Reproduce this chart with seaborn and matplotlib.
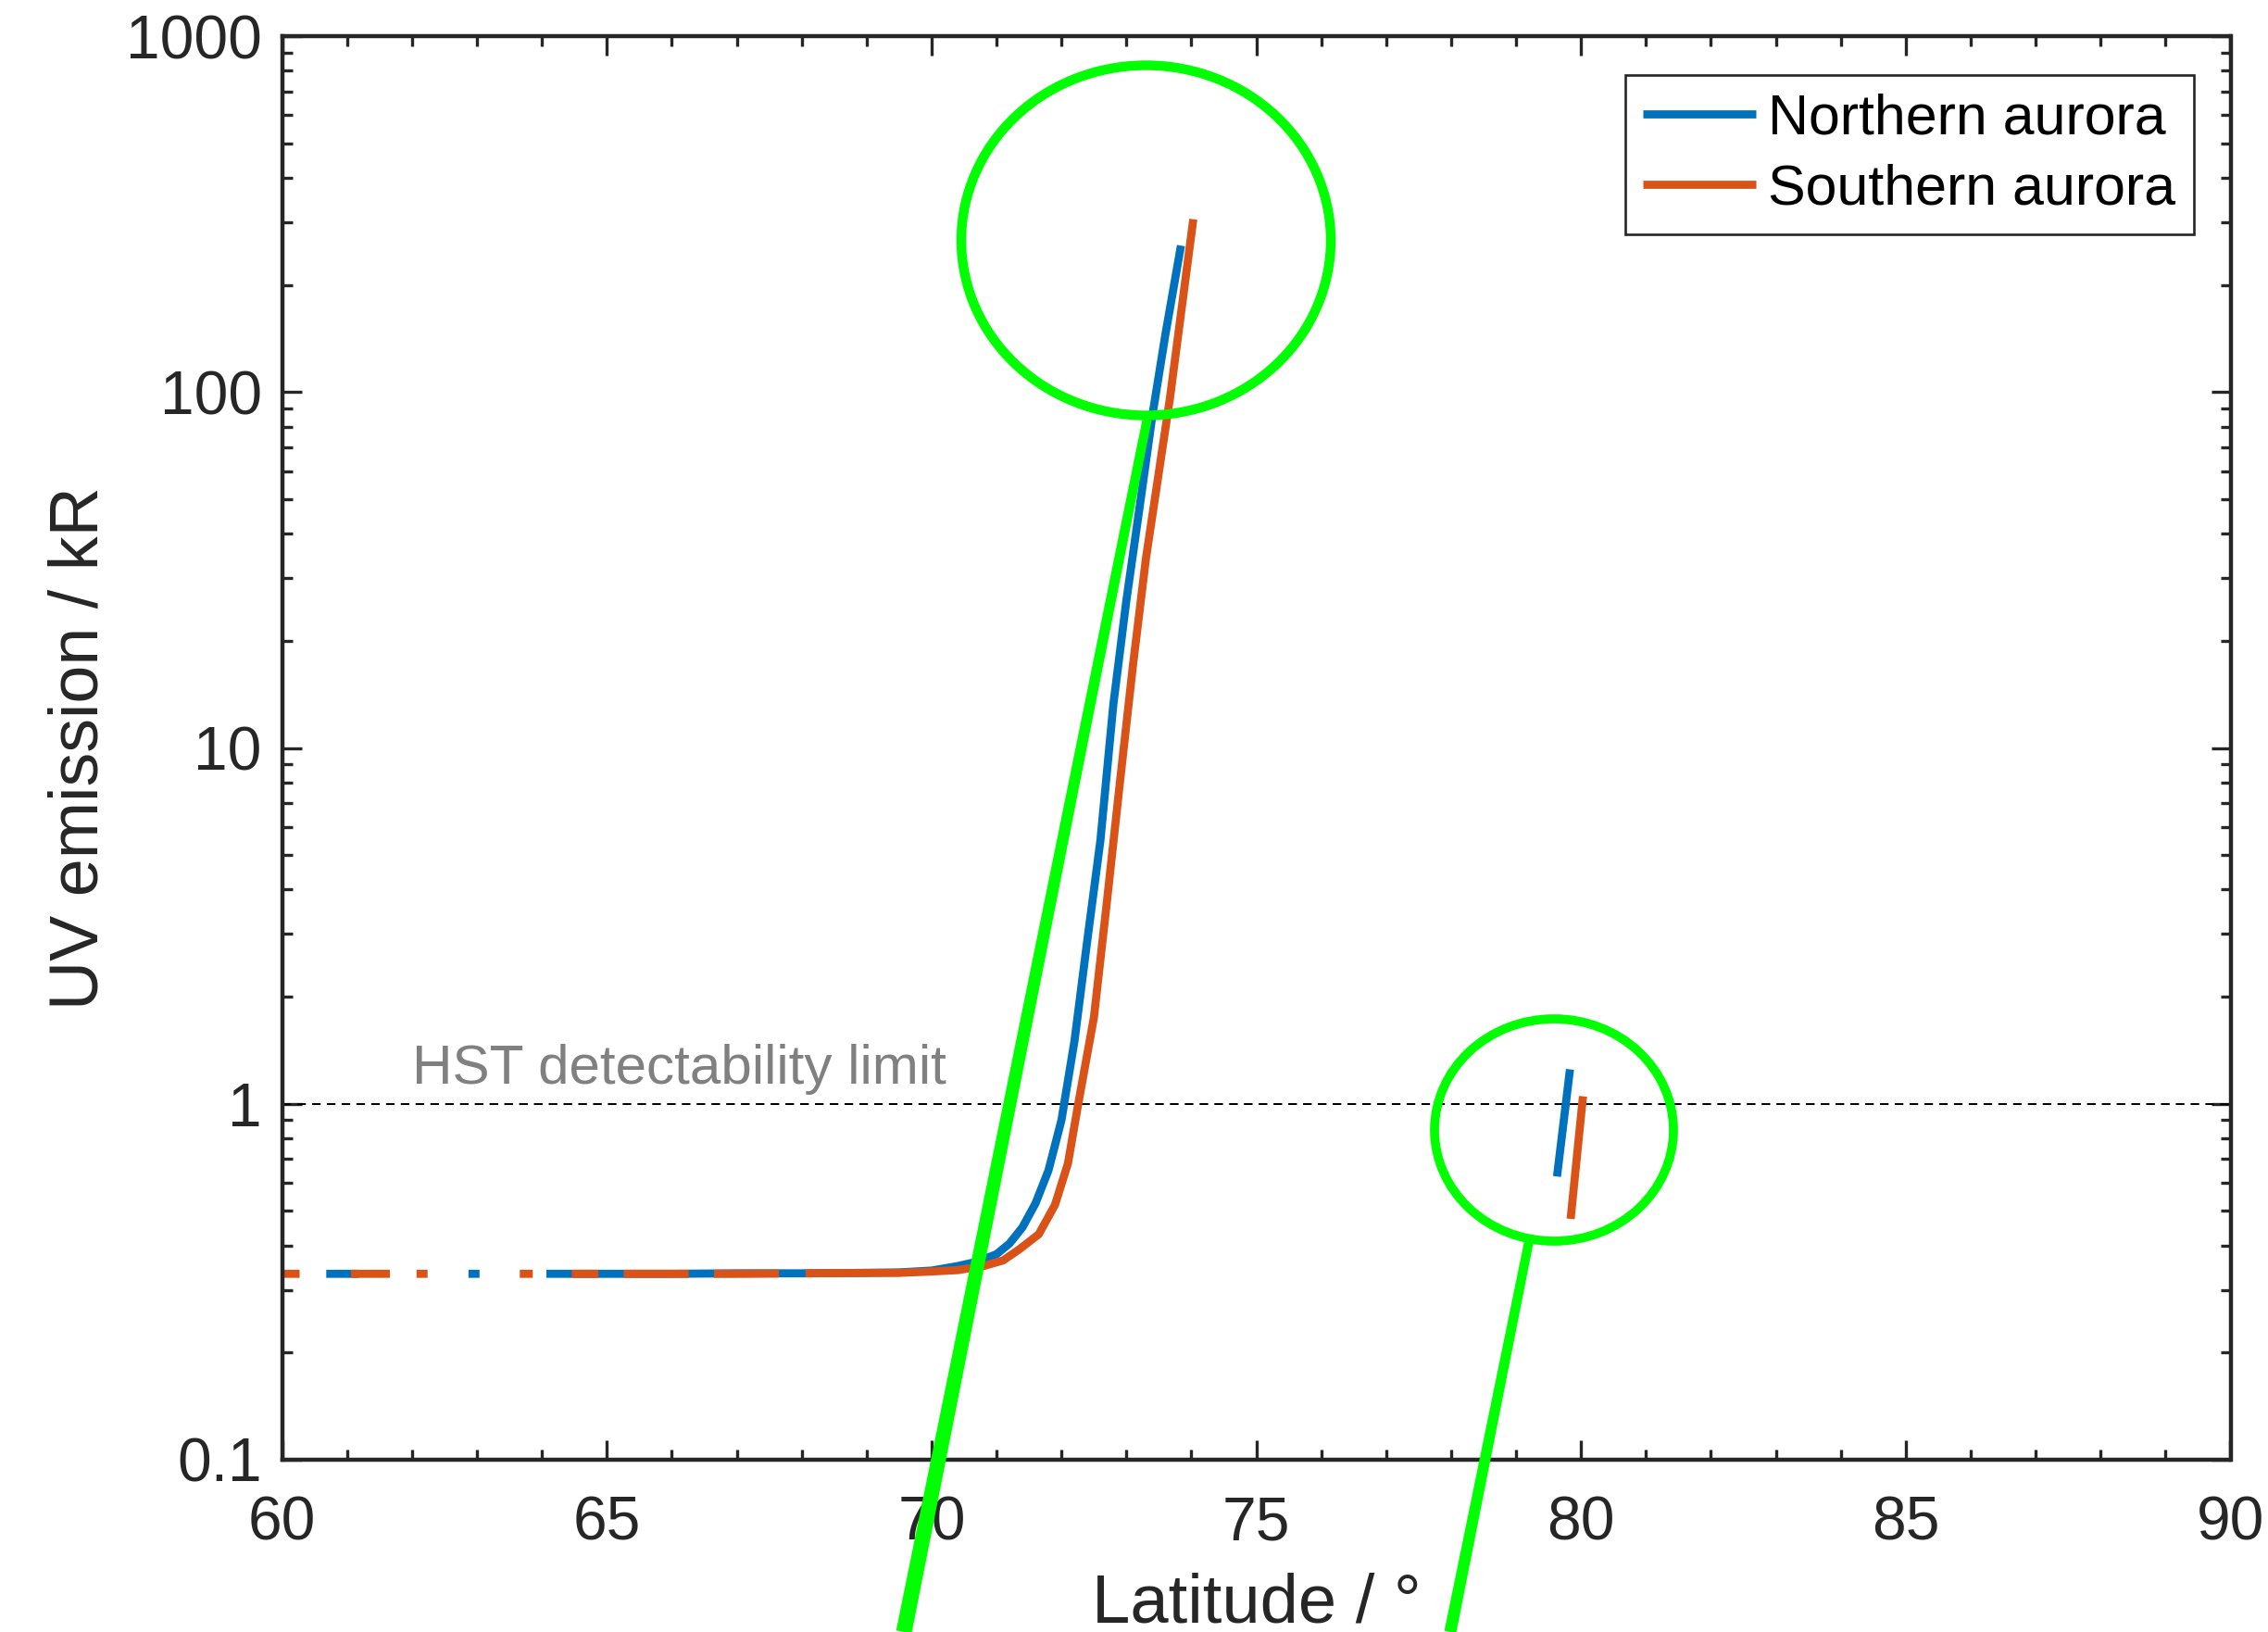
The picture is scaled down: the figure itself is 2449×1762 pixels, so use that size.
import numpy as np
import pandas as pd
import matplotlib
matplotlib.use("Agg")
import matplotlib.pyplot as plt
import seaborn as sns
from matplotlib.lines import Line2D
from matplotlib.patches import Ellipse, Polygon
from matplotlib.ticker import FixedLocator, FixedFormatter, MultipleLocator, LogLocator, NullFormatter

# ---------------- data ----------------
north_lat = [60, 61, 62, 63, 64, 65, 66, 67, 68, 69, 69.5, 70.0, 70.4, 70.7, 71.0, 71.2, 71.4,
             71.6, 71.8, 72.0, 72.2, 72.4, 72.6, 72.8, 73.0, 73.2, 73.4, 73.6, 73.84]
north_uv = [0.333, 0.333, 0.333, 0.333, 0.333, 0.333, 0.333, 0.334, 0.334, 0.335, 0.336, 0.340,
            0.350, 0.360, 0.378, 0.405, 0.45, 0.525, 0.65, 0.90, 1.50, 2.9, 5.5, 13.3, 26, 47,
            86, 145, 258]

south_lat = [60, 61, 62, 63, 64, 65, 66, 67, 68, 69, 69.5, 70.0, 70.4, 70.8, 71.1, 71.35, 71.65,
             71.9, 72.1, 72.25, 72.5, 72.7, 72.9, 73.1, 73.3, 73.67, 74.03]
south_uv = [0.333, 0.333, 0.333, 0.333, 0.333, 0.333, 0.333, 0.333, 0.334, 0.335, 0.335, 0.338,
            0.341, 0.350, 0.363, 0.39, 0.43, 0.52, 0.68, 0.98, 1.75, 3.7, 8.0, 17, 34, 96, 306]

north_tail_lat = [79.63, 79.83]
north_tail_uv = [0.625, 1.25]
south_tail_lat = [79.84, 80.03]
south_tail_uv = [0.475, 1.05]

hst_limit = 1.0
series_labels = ["Northern aurora", "Southern aurora"]
x_ticks = [60, 65, 70, 75, 80, 85, 90]
x_tick_labels = ["60", "65", "70", "75", "80", "85", "90"]
y_ticks = [0.1, 1, 10, 100, 1000]
y_tick_labels = ["0.1", "1", "10", "100", "1000"]

# ---------------- style ----------------
BLUE = "#0072BD"
ORANGE = "#D95319"
GREEN = "#00FF00"
DARK = "#262626"
LW = 6.3

sns.set_theme(style="ticks")
plt.rcParams["font.family"] = ["Liberation Sans", "DejaVu Sans"]
plt.rcParams["lines.scale_dashes"] = False

W, H, DPI = 2449, 1762, 100
fig = plt.figure(figsize=(W / DPI, H / DPI), dpi=DPI)
AX_L, AX_R, AX_T, AX_B = 304.6, 2408.5, 39.1, 1576.0
ax = fig.add_axes([AX_L / W, 1 - AX_B / H, (AX_R - AX_L) / W, (AX_B - AX_T) / H])

DEG_PT = (AX_R - AX_L) / 30 * 72 / DPI   # points per degree of latitude
# dash patterns along the flat part (in degrees of latitude), then solid
blue_dash = [0, 0.68, 0.50, 1.69, 0.17, 1.03, 500, 1]
orange_dash = [0.27, 0.79, 0.60, 0.41, 0.17, 1.42, 0.20, 0.60, 0.41, 0.39, 1.00, 0.39, 1.00, 0.41, 500, 1]

ax.axhline(hst_limit, color="black", lw=1.44, linestyle=(0, (6.7, 4.8)), zorder=1.5)

df_n = pd.DataFrame({"lat": north_lat, "uv": north_uv})
df_s = pd.DataFrame({"lat": south_lat, "uv": south_uv})

sns.lineplot(data=df_n, x="lat", y="uv", color=BLUE, lw=LW, ax=ax, estimator=None, sort=False)
ln = ax.lines[-1]
ln.set_linestyle((0, [v * DEG_PT for v in blue_dash]))
ln.set_dash_capstyle("butt")

sns.lineplot(data=df_s, x="lat", y="uv", color=ORANGE, lw=LW, ax=ax, estimator=None, sort=False)
ln = ax.lines[-1]
ln.set_linestyle((0, [v * DEG_PT for v in orange_dash]))
ln.set_dash_capstyle("butt")

sns.lineplot(x=north_tail_lat, y=north_tail_uv, color=BLUE, lw=LW, ax=ax, estimator=None, sort=False)
ax.lines[-1].set_solid_capstyle("butt")
sns.lineplot(x=south_tail_lat, y=south_tail_uv, color=ORANGE, lw=LW, ax=ax, estimator=None, sort=False)
ax.lines[-1].set_solid_capstyle("butt")

ax.text(62.0, 1.139, "HST detectability limit", color="#808080", fontsize=43.4,
        ha="left", va="baseline")

# axes
ax.set_yscale("log")
ax.set_xlim(60, 90)
ax.set_ylim(0.1, 1000)
ax.xaxis.set_major_locator(FixedLocator(x_ticks))
ax.xaxis.set_major_formatter(FixedFormatter(x_tick_labels))
ax.xaxis.set_minor_locator(MultipleLocator(1))
ax.yaxis.set_major_locator(FixedLocator(y_ticks))
ax.yaxis.set_major_formatter(FixedFormatter(y_tick_labels))
ax.yaxis.set_minor_locator(LogLocator(base=10, subs=np.arange(2, 10)))
ax.yaxis.set_minor_formatter(NullFormatter())

ax.tick_params(which="both", direction="in", top=True, right=True, color=DARK,
               width=2.4, labelcolor=DARK)
ax.tick_params(which="major", length=15.1)
ax.tick_params(which="minor", length=7.6)
ax.tick_params(axis="x", which="major", pad=28, labelsize=47.4)
ax.tick_params(axis="y", which="major", pad=15.8, labelsize=47.4)
for s in ax.spines.values():
    s.set_visible(True)
    s.set_color(DARK)
    s.set_linewidth(3.2)

ax.set_xlabel("Latitude / °", fontsize=53.5, color=DARK, labelpad=15)
ax.set_ylabel("UV emission / kR", fontsize=53.0, color=DARK, labelpad=11)

handles = [Line2D([0], [0], color=BLUE, lw=LW, solid_capstyle="butt"),
           Line2D([0], [0], color=ORANGE, lw=LW, solid_capstyle="butt")]
leg = ax.legend(handles, series_labels, loc="upper right", bbox_to_anchor=(0.981, 0.9729),
                borderaxespad=0, fontsize=43.8, frameon=True, fancybox=False,
                edgecolor=DARK, framealpha=1, handlelength=2.0, handletextpad=0.22,
                labelspacing=0.32, borderpad=0.32)
leg.get_frame().set_linewidth(1.9)
for t in leg.get_texts():
    t.set_color("black")

# green call-out annotations (figure pixel geometry)
def fx(px):
    return px / W

def fy(py):
    return 1 - py / H

for (cx, cy, rx, ry, lw) in [(1237.5, 259.5, 199.5, 189.0, 7.5), (1678.0, 1220.0, 129.0, 120.0, 7.0)]:
    fig.add_artist(Ellipse((fx(cx), fy(cy)), 2 * rx / W, 2 * ry / H, transform=fig.transFigure,
                           fill=False, edgecolor=GREEN, lw=lw, zorder=10))

for (x0, y0, x1, y1, w0, w1) in [(1238.6, 453.0, 976.0, 1762.0, 10.0, 17.0),
                                  (1651.0, 1340.0, 1566.0, 1762.0, 10.0, 13.0)]:
    d = np.array([x1 - x0, y1 - y0])
    d = d / np.hypot(*d)
    n = np.array([-d[1], d[0]])
    pts = [(x0 + n[0] * w0 / 2, y0 + n[1] * w0 / 2), (x1 + n[0] * w1 / 2, y1 + n[1] * w1 / 2),
           (x1 - n[0] * w1 / 2, y1 - n[1] * w1 / 2), (x0 - n[0] * w0 / 2, y0 - n[1] * w0 / 2)]
    fig.add_artist(Polygon([(fx(px), fy(py)) for px, py in pts], closed=True,
                           transform=fig.transFigure, facecolor=GREEN, edgecolor="none", zorder=10))

fig.savefig("out.png", dpi=DPI, facecolor="white")
